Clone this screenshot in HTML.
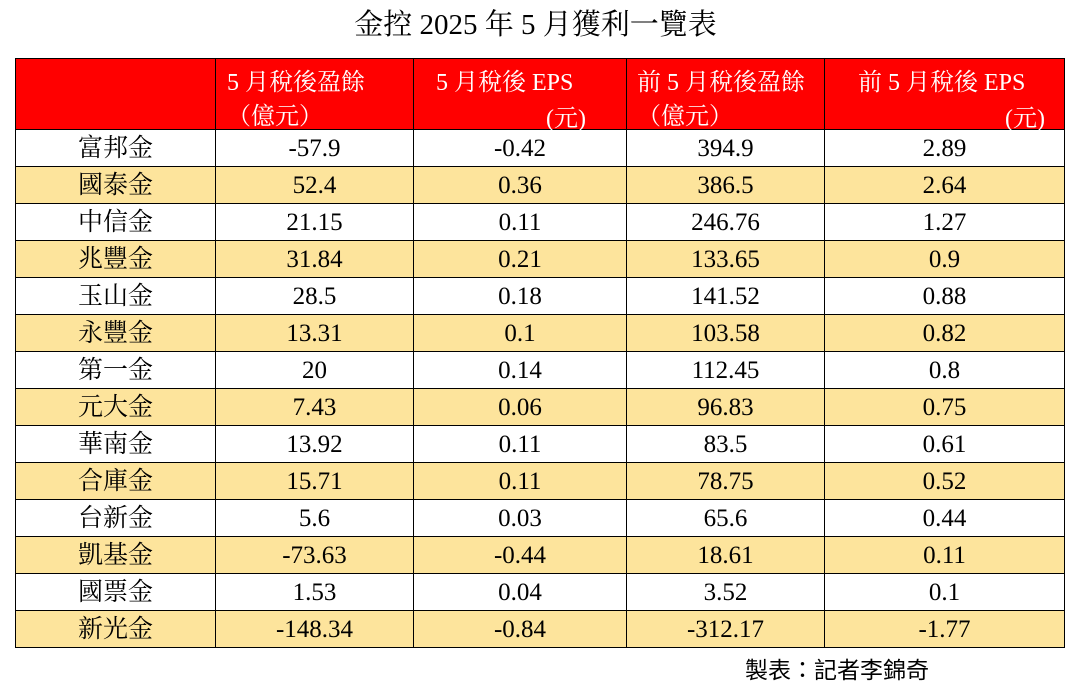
<!DOCTYPE html>
<html><head><meta charset="utf-8"><style>
body{margin:0;width:1071px;height:685px;background:#fff;position:relative;font-family:"Liberation Serif","Noto Serif CJK SC",serif;overflow:hidden}
.t{position:absolute;white-space:nowrap}
table{position:absolute;left:15px;top:58px;border-collapse:collapse;table-layout:fixed}
td{border:1.5px solid #000;text-align:center;font-size:25px;height:34px;padding:2px 0 0 0;line-height:34px;overflow:hidden}
tr.h td{background:#ff0000;height:70px;padding:0}
tr.y td{background:#fde49c}
.hd{color:#fff;font-size:24px}
</style></head><body>
<div class="t" style="left:0;width:1071px;text-align:center;top:2px;font-size:29px">金控 2025 年 5 月獲利一覽表</div>
<table>
<colgroup><col style="width:200px"><col style="width:198px"><col style="width:213px"><col style="width:198px"><col style="width:240px"></colgroup>
<tr class="h"><td></td><td></td><td></td><td></td><td></td></tr>
<tr><td>富邦金</td><td>-57.9</td><td>-0.42</td><td>394.9</td><td>2.89</td></tr>
<tr class="y"><td>國泰金</td><td>52.4</td><td>0.36</td><td>386.5</td><td>2.64</td></tr>
<tr><td>中信金</td><td>21.15</td><td>0.11</td><td>246.76</td><td>1.27</td></tr>
<tr class="y"><td>兆豐金</td><td>31.84</td><td>0.21</td><td>133.65</td><td>0.9</td></tr>
<tr><td>玉山金</td><td>28.5</td><td>0.18</td><td>141.52</td><td>0.88</td></tr>
<tr class="y"><td>永豐金</td><td>13.31</td><td>0.1</td><td>103.58</td><td>0.82</td></tr>
<tr><td>第一金</td><td>20</td><td>0.14</td><td>112.45</td><td>0.8</td></tr>
<tr class="y"><td>元大金</td><td>7.43</td><td>0.06</td><td>96.83</td><td>0.75</td></tr>
<tr><td>華南金</td><td>13.92</td><td>0.11</td><td>83.5</td><td>0.61</td></tr>
<tr class="y"><td>合庫金</td><td>15.71</td><td>0.11</td><td>78.75</td><td>0.52</td></tr>
<tr><td>台新金</td><td>5.6</td><td>0.03</td><td>65.6</td><td>0.44</td></tr>
<tr class="y"><td>凱基金</td><td>-73.63</td><td>-0.44</td><td>18.61</td><td>0.11</td></tr>
<tr><td>國票金</td><td>1.53</td><td>0.04</td><td>3.52</td><td>0.1</td></tr>
<tr class="y"><td>新光金</td><td>-148.34</td><td>-0.84</td><td>-312.17</td><td>-1.77</td></tr>
</table>
<div class="t hd" style="left:227px;top:62px">5 月稅後盈餘</div>
<div class="t hd" style="left:227px;top:96px">（億元）</div>
<div class="t hd" style="left:436px;top:62px">5 月稅後 EPS</div>
<div class="t hd" style="left:546px;top:98px">(元)</div>
<div class="t hd" style="left:637px;top:62px">前 5 月稅後盈餘</div>
<div class="t hd" style="left:637px;top:96px">（億元）</div>
<div class="t hd" style="left:858px;top:62px">前 5 月稅後 EPS</div>
<div class="t hd" style="left:1005px;top:98px">(元)</div>
<div class="t" style="left:745px;top:651px;font-size:23px;font-family:'Liberation Sans','Noto Sans CJK TC',sans-serif">製表：記者李錦奇</div>
</body></html>
